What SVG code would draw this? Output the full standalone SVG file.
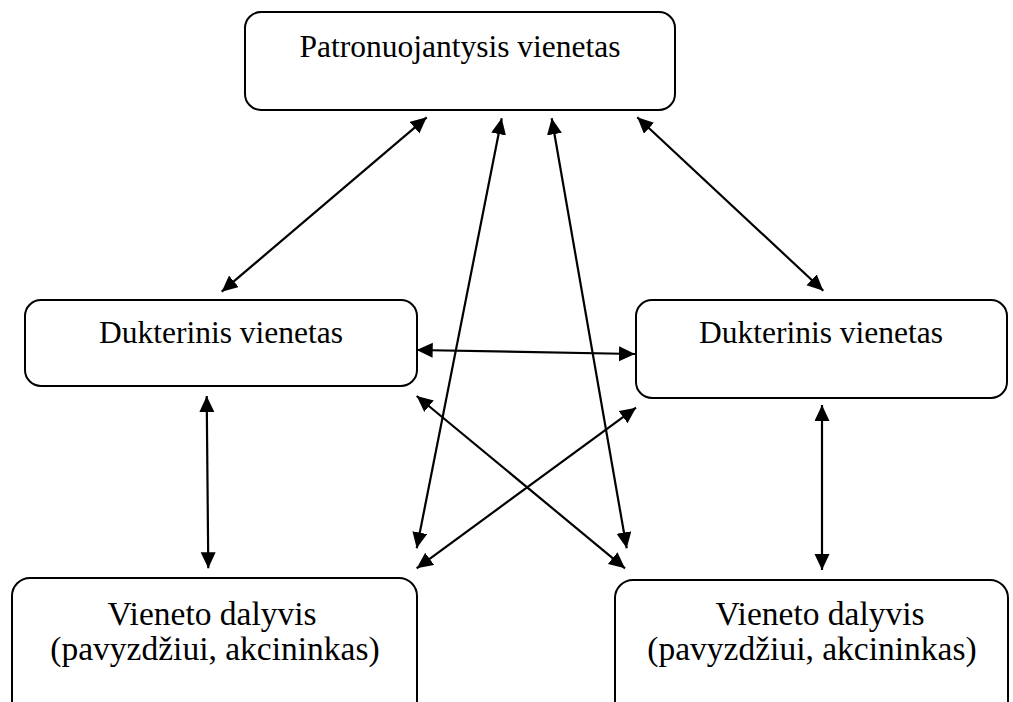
<svg xmlns="http://www.w3.org/2000/svg" width="1013" height="702" viewBox="0 0 1013 702">
  <style>
    .box { fill: #ffffff; stroke: #000000; stroke-width: 2; }
    .lbl { font-family: "Liberation Serif", "Times New Roman", serif; font-size: 31.5px; fill: #000000; text-anchor: middle; }
    .lbl-lg { font-size: 33.5px; }
    .link { stroke: #000000; stroke-width: 2.2; fill: none; marker-start: url(#head); marker-end: url(#head); }
  </style>
  <defs>
    <marker id="head" markerUnits="userSpaceOnUse" markerWidth="17" markerHeight="16" refX="16" refY="7.5" orient="auto-start-reverse">
      <path d="M0,0 L16,7.5 L0,15 z" fill="#000000"/>
    </marker>
  </defs>

  <rect width="1013" height="702" fill="#ffffff"/>

  <!-- parent entity -->
  <g id="parent">
    <rect class="box" x="245" y="12" width="430" height="98" rx="16"/>
    <text class="lbl" x="460" y="57">Patronuojantysis vienetas</text>
  </g>

  <!-- subsidiaries -->
  <g id="sub-left">
    <rect class="box" x="25" y="300" width="392" height="86" rx="16"/>
    <text class="lbl" x="221" y="343">Dukterinis vienetas</text>
  </g>
  <g id="sub-right">
    <rect class="box" x="636" y="300" width="371" height="98" rx="16"/>
    <text class="lbl" x="821" y="343">Dukterinis vienetas</text>
  </g>

  <!-- participants -->
  <g id="member-left">
    <rect class="box" x="12" y="578" width="405" height="150" rx="18"/>
    <text class="lbl lbl-lg" x="212" y="625">Vieneto dalyvis</text>
    <text class="lbl lbl-lg" x="215" y="660">(pavyzdžiui, akcininkas)</text>
  </g>
  <g id="member-right">
    <rect class="box" x="615" y="580" width="393" height="150" rx="18"/>
    <text class="lbl lbl-lg" x="820" y="625">Vieneto dalyvis</text>
    <text class="lbl lbl-lg" x="812" y="660">(pavyzdžiui, akcininkas)</text>
  </g>

  <!-- two-way relations -->
  <g id="connectors">
    <line class="link" x1="426.7" y1="117.3" x2="221.7" y2="291.7"/>
    <line class="link" x1="501.7" y1="118.3" x2="416.7" y2="548.3"/>
    <line class="link" x1="551.7" y1="118.3" x2="626.7" y2="548.3"/>
    <line class="link" x1="637.3" y1="117.3" x2="823.3" y2="290.7"/>
    <line class="link" x1="416.7" y1="350" x2="635" y2="354"/>
    <line class="link" x1="206.7" y1="396" x2="208.3" y2="568.3"/>
    <line class="link" x1="822" y1="405" x2="822" y2="570"/>
    <line class="link" x1="416.7" y1="396" x2="625" y2="568.3"/>
    <line class="link" x1="636" y1="407.7" x2="416.7" y2="568.3"/>
  </g>
</svg>
